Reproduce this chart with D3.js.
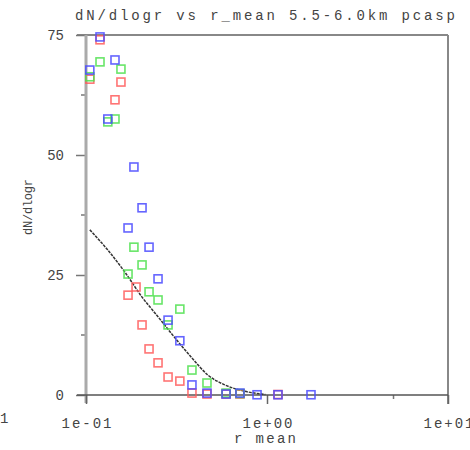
<!DOCTYPE html>
<html><head><meta charset="utf-8">
<script src="https://cdn.jsdelivr.net/npm/d3@7"></script>
<style>html,body{margin:0;padding:0;background:#fff;}svg{display:block;}</style>
</head><body>
<script>
// ---- data ----
const redR   = [0.105,0.1195,0.1446,0.156,0.1707,0.189,0.204,0.223,0.250,0.284,0.330,0.385,0.466,0.594,0.709,1.15];
const redV   = [65.8,74.0,61.5,65.2,20.8,22.5,14.6,9.6,6.7,3.75,2.9,0.4,0.2,0.2,0.2,0.1];
const greenR = [0.105,0.1195,0.132,0.1446,0.156,0.1707,0.184,0.204,0.223,0.250,0.284,0.330,0.385,0.466,0.594,0.709];
const greenV = [66.3,69.4,56.9,57.5,67.9,25.2,30.8,27.1,21.5,19.8,14.6,17.9,5.2,2.5,0.4,0.3];
const blueR  = [0.105,0.1195,0.132,0.1446,0.1707,0.184,0.204,0.223,0.250,0.284,0.330,0.385,0.466,0.594,0.709,0.881,1.15,1.75];
const blueV  = [67.7,74.6,57.5,69.8,34.8,47.5,39.0,30.8,24.2,15.6,11.3,2.1,0.4,0.2,0.4,0.05,0.05,0.05];
const fitR   = [0.105,0.132,0.164,0.204,0.250,0.31,0.385,0.47,0.585,0.75,0.98];
const fitV   = [34.4,30.2,25.6,20.4,16.3,11.9,7.7,4.2,2.1,0.8,0.1];
const xTickVals = [0.1,1,10];
const xTickLabels = ["1e-01","1e+00","1e+01"];
const xMinorVals = [5];
const yTickVals = [0,25,50,75];
const yMinorVals = [12.5,37.5,62.5];
const title = "dN/dlogr vs r_mean 5.5-6.0km  pcasp";
const xTitle = "r mean";
const yTitle = "dN/dlogr";

const W = 470, H = 450;
const svg = d3.select("body").append("svg").attr("width", W).attr("height", H);
const x = d3.scaleLog().domain([0.1, 10]).range([86, 448]);
const y = d3.scaleLinear().domain([0, 75]).range([395, 35]);
const font = "'Liberation Mono','DejaVu Sans Mono',monospace";
const tcol = "#444";

// frame: top & right
svg.append("line").attr("x1", 77).attr("x2", x(10)).attr("y1", y(75)).attr("y2", y(75))
  .attr("stroke", "#888").attr("stroke-width", 2);
svg.append("line").attr("x1", x(10)).attr("x2", x(10)).attr("y1", y(75)).attr("y2", 404)
  .attr("stroke", "#888").attr("stroke-width", 2);

// left axis
const yAxis = d3.axisLeft(y).tickValues(yTickVals).tickSize(10).tickPadding(12).tickFormat(d3.format("d"));
const gy = svg.append("g").attr("transform", `translate(${x(0.1)},0)`).call(yAxis);
gy.select(".domain").remove();
gy.selectAll(".tick line").attr("stroke", "#777").attr("stroke-width", 1.5);
gy.selectAll(".tick text").attr("font-family", font).attr("font-size", 14).attr("fill", tcol);
svg.append("g").selectAll("line").data(yMinorVals).join("line")
  .attr("x1", x(0.1) - 5).attr("x2", x(0.1)).attr("y1", d => y(d)).attr("y2", d => y(d))
  .attr("stroke", "#777").attr("stroke-width", 1.5);
svg.append("line").attr("x1", x(0.1)).attr("x2", x(0.1)).attr("y1", y(75)).attr("y2", 403)
  .attr("stroke", "#aaa").attr("stroke-width", 3);

// bottom axis
const xAxis = d3.axisBottom(x).tickValues(xTickVals).tickSize(9).tickPadding(14)
  .tickFormat((d, i) => xTickLabels[i]);
const gx = svg.append("g").attr("transform", `translate(0,${y(0)})`).call(xAxis);
gx.select(".domain").remove();
gx.selectAll(".tick line").attr("stroke", "#666").attr("stroke-width", 1.5);
gx.selectAll(".tick text").attr("font-family", font).attr("font-size", 14).attr("fill", tcol)
  .attr("textLength", 50).attr("lengthAdjust", "spacing");
svg.append("g").selectAll("line").data(xMinorVals).join("line")
  .attr("x1", d => x(d)).attr("x2", d => x(d)).attr("y1", y(0)).attr("y2", y(0) + 4)
  .attr("stroke", "#777").attr("stroke-width", 1.5);
svg.append("line").attr("x1", 77).attr("x2", x(10)).attr("y1", y(0)).attr("y2", y(0))
  .attr("stroke", "#555").attr("stroke-width", 1.5);

// fit line
svg.append("path").datum(fitR.map((r, i) => [r, fitV[i]]))
  .attr("d", d3.line().x(d => x(d[0])).y(d => y(d[1])).curve(d3.curveMonotoneX))
  .attr("fill", "none").attr("stroke", "#333").attr("stroke-width", 1.5)
  .attr("stroke-dasharray", "3,1");

// markers
function squares(rs, vs, color) {
  svg.append("g").selectAll("rect").data(rs.map((r, i) => [r, vs[i]])).join("rect")
    .attr("x", d => x(d[0]) - 4).attr("y", d => y(d[1]) - 4)
    .attr("width", 8).attr("height", 8)
    .attr("fill", "none").attr("stroke", color).attr("stroke-width", 1.6).attr("stroke-opacity", 0.85);
}
squares(redR, redV, "#ff5c5c");
squares(greenR, greenV, "#4ee04e");
squares(blueR, blueV, "#4a4aff");

// texts
svg.append("text").attr("x", 75).attr("y", 20).attr("font-family", font).attr("font-size", 14)
  .attr("fill", tcol).attr("textLength", 380).attr("lengthAdjust", "spacing").text(title);
svg.append("text").attr("x", 265).attr("y", 443).attr("text-anchor", "middle")
  .attr("font-family", font).attr("font-size", 14).attr("fill", tcol)
  .attr("textLength", 62).attr("lengthAdjust", "spacing").text(xTitle);
svg.append("text").attr("transform", "translate(32,207) rotate(-90)").attr("text-anchor", "middle")
  .attr("font-family", font).attr("font-size", 12).attr("fill", tcol)
  .attr("textLength", 56).attr("lengthAdjust", "spacing").text(yTitle);
svg.append("text").attr("x", 0).attr("y", 423).attr("font-family", font).attr("font-size", 14)
  .attr("fill", tcol).text("1");
</script>
</body></html>
